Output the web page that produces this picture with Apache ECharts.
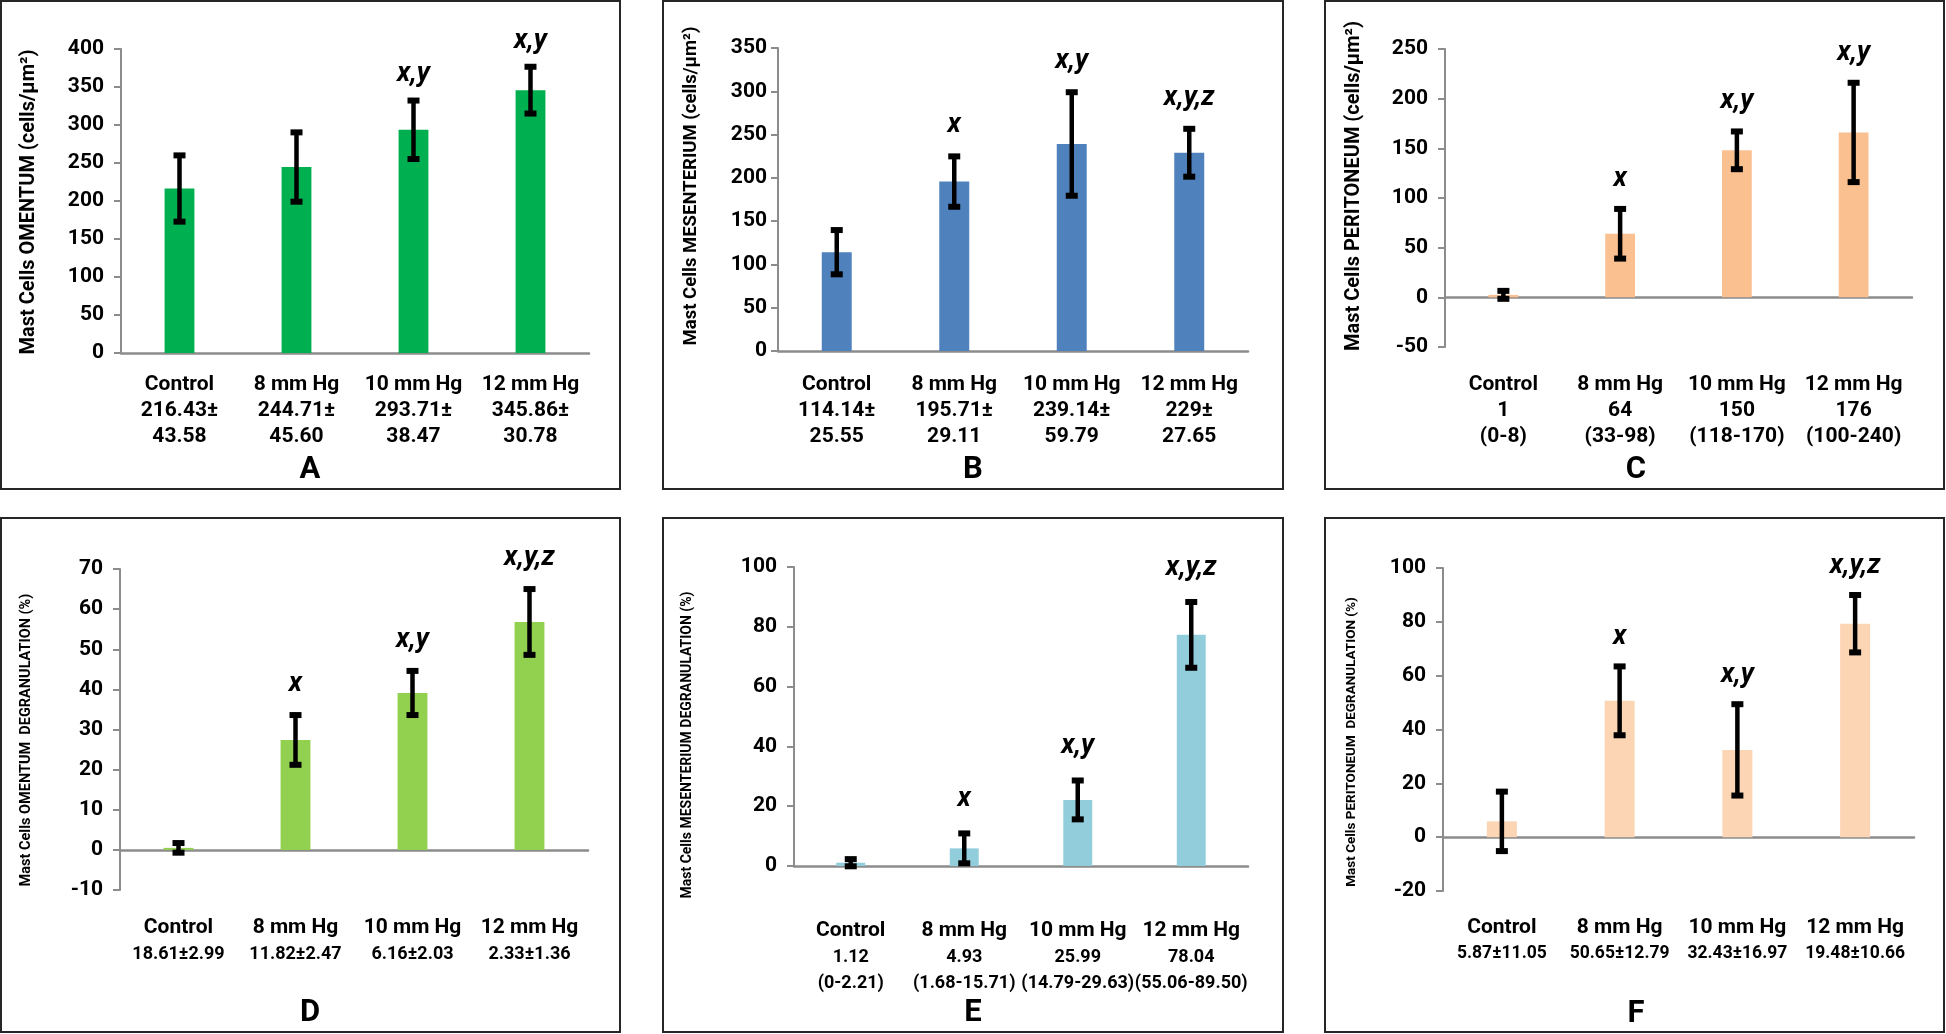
<!DOCTYPE html>
<html>
<head>
<meta charset="utf-8">
<script src="https://cdn.jsdelivr.net/npm/echarts@6/dist/echarts.min.js"></script>
<style>
  html, body { margin: 0; padding: 0; background: #ffffff; }
  #chart { width: 1946px; height: 1034px; }
</style>
</head>
<body>
<div id="chart"></div>
<script>
// ---------------- DATA ----------------
const categories = ['Control', '8 mm Hg', '10 mm Hg', '12 mm Hg'];

// A – Mast cells, omentum
const valuesA = [216.43, 244.71, 293.71, 345.86];
const errorsA = [43.58, 45.60, 38.47, 30.78];
const statsA  = ['216.43±\n43.58', '244.71±\n45.60', '293.71±\n38.47', '345.86±\n30.78'];
const signifA = ['', '', 'x,y', 'x,y'];
const ticksA  = [0, 50, 100, 150, 200, 250, 300, 350, 400];
const yNameA  = 'Mast Cells OMENTUM (cells/µm²)';

// B – Mast cells, mesenterium
const valuesB = [114.14, 195.71, 239.14, 229];
const errorsB = [25.55, 29.11, 59.79, 27.65];
const statsB  = ['114.14±\n25.55', '195.71±\n29.11', '239.14±\n59.79', '229±\n27.65'];
const signifB = ['', 'x', 'x,y', 'x,y,z'];
const ticksB  = [0, 50, 100, 150, 200, 250, 300, 350];
const yNameB  = 'Mast Cells MESENTERIUM (cells/µm²)';

// C – Mast cells, peritoneum
const valuesC = [2.5, 64, 148, 166];
const errorsC = [4, 25, 19, 50];
const statsC  = ['1\n(0-8)', '64\n(33-98)', '150\n(118-170)', '176\n(100-240)'];
const signifC = ['', 'x', 'x,y', 'x,y'];
const ticksC  = [-50, 0, 50, 100, 150, 200, 250];
const yNameC  = 'Mast Cells PERITONEUM (cells/µm²)';

// D – Degranulation, omentum
const valuesD = [0.5, 27.4, 39.1, 56.8];
const errorsD = [1.2, 6.2, 5.5, 8.2];
const statsD  = ['18.61±2.99', '11.82±2.47', '6.16±2.03', '2.33±1.36'];
const signifD = ['', 'x', 'x,y', 'x,y,z'];
const ticksD  = [-10, 0, 10, 20, 30, 40, 50, 60, 70];
const yNameD  = 'Mast Cells OMENTUM  DEGRANULATION (%)';

// E – Degranulation, mesenterium
const valuesE = [1.1, 5.9, 22.1, 77.3];
const errorsE = [1.2, 5, 6.5, 11];
const statsE  = ['1.12\n(0-2.21)', '4.93\n(1.68-15.71)', '25.99\n(14.79-29.63)', '78.04\n(55.06-89.50)'];
const signifE = ['', 'x', 'x,y', 'x,y,z'];
const ticksE  = [0, 20, 40, 60, 80, 100];
const yNameE  = 'Mast Cells MESENTERIUM DEGRANULATION (%)';

// F – Degranulation, peritoneum
const valuesF = [5.87, 50.65, 32.43, 79.3];
const errorsF = [11.05, 12.79, 16.97, 10.66];
const statsF  = ['5.87±11.05', '50.65±12.79', '32.43±16.97', '19.48±10.66'];
const signifF = ['', 'x', 'x,y', 'x,y,z'];
const ticksF  = [-20, 0, 20, 40, 60, 80, 100];
const yNameF  = 'Mast Cells PERITONEUM  DEGRANULATION (%)';

// ---------------- LAYOUT / STYLE ----------------
const FONT = 'Roboto, "Open Sans", sans-serif';
const panels = [
  { letter: 'A', values: valuesA, errors: errorsA, stats: statsA, signif: signifA, ticks: ticksA, yName: yNameA,
    color: '#00B050', frame: [1, 1, 619, 488], grid: [121, 49, 468, 304], labelY: 385, valueSize: 21,
    yNamePos: [29, 202], yNameSize: 20, letterPos: [310, 470], gap: 26, tickMargin: 17 },
  { letter: 'B', values: valuesB, errors: errorsB, stats: statsB, signif: signifB, ticks: ticksB, yName: yNameB,
    color: '#4F81BD', frame: [663, 1, 620, 488], grid: [778, 48, 470, 303], labelY: 385, valueSize: 21,
    yNamePos: [691, 186], yNameSize: 18.5, letterPos: [973, 470], gap: 31, tickMargin: 11 },
  { letter: 'C', values: valuesC, errors: errorsC, stats: statsC, signif: signifC, ticks: ticksC, yName: yNameC,
    color: '#FAC090', frame: [1325, 1, 619, 488], grid: [1445, 49, 467, 298], labelY: 385, valueSize: 21,
    yNamePos: [1354, 186], yNameSize: 20, letterPos: [1636, 470], gap: 30, tickMargin: 17 },
  { letter: 'D', values: valuesD, errors: errorsD, stats: statsD, signif: signifD, ticks: ticksD, yName: yNameD,
    color: '#92D050', frame: [1, 518, 619, 514], grid: [120, 569, 468, 321], labelY: 928, valueSize: 18,
    yNamePos: [26, 740], yNameSize: 14.5, letterPos: [310, 1013], gap: 31, tickMargin: 17 },
  { letter: 'E', values: valuesE, errors: errorsE, stats: statsE, signif: signifE, ticks: ticksE, yName: yNameE,
    color: '#92CDDC', frame: [663, 518, 620, 514], grid: [794, 567, 454, 299], labelY: 931, valueSize: 18,
    yNamePos: [687, 745], yNameSize: 14, letterPos: [973, 1013], gap: 34, tickMargin: 17 },
  { letter: 'F', values: valuesF, errors: errorsF, stats: statsF, signif: signifF, ticks: ticksF, yName: yNameF,
    color: '#FCD5B5', frame: [1325, 518, 619, 514], grid: [1443, 568, 471, 323], labelY: 928, valueSize: 17.5,
    yNamePos: [1352, 742], yNameSize: 13.5, letterPos: [1636, 1014], gap: 29, tickMargin: 17 }
];

const LINE_H = 26;
const AXIS_COLOR = '#8c8c8c';

const grids = [], xAxes = [], yAxes = [], series = [], titles = [], graphics = [];

panels.forEach((p, k) => {
  const min = p.ticks[0], max = p.ticks[p.ticks.length - 1];
  const interval = p.ticks[1] - p.ticks[0];
  const [gl, gt, gw, gh] = p.grid;
  const bottomY = gt + gh;
  const labelMargin = p.labelY - LINE_H / 2 - bottomY;

  grids.push({ left: gl, top: gt, width: gw, height: gh, containLabel: false });

  xAxes.push({
    type: 'category', gridIndex: k, data: categories,
    axisLine: { onZero: true, lineStyle: { color: AXIS_COLOR, width: 2.5 } },
    axisTick: { show: false },
    axisLabel: {
      interval: 0, margin: labelMargin, color: '#000', lineHeight: LINE_H,
      formatter: (val, i) => '{n|' + val + '}\n' + p.stats[i].split('\n').map(s => '{v|' + s + '}').join('\n'),
      rich: {
        n: { fontFamily: FONT, fontWeight: 'bold', fontSize: 21, lineHeight: LINE_H, color: '#000' },
        v: { fontFamily: FONT, fontWeight: 'bold', fontSize: p.valueSize, lineHeight: LINE_H, color: '#000' }
      }
    }
  });

  yAxes.push({
    type: 'value', gridIndex: k, min: min, max: max, interval: interval,
    axisLine: { show: true, lineStyle: { color: AXIS_COLOR, width: 2 } },
    axisTick: { show: true, length: 7, lineStyle: { color: AXIS_COLOR, width: 2 } },
    splitLine: { show: false },
    axisLabel: { margin: p.tickMargin, color: '#000', fontFamily: FONT, fontWeight: 'bold', fontSize: 21 }
  });

  series.push({
    type: 'bar', xAxisIndex: k, yAxisIndex: k, data: p.values,
    barWidth: '25.5%', itemStyle: { color: p.color }, z: 2, silent: true
  });

  const vals = p.values, errs = p.errors, sig = p.signif, gap = p.gap;
  series.push({
    type: 'custom', xAxisIndex: k, yAxisIndex: k, z: 5, silent: true,
    data: vals.map((v, i) => [i, v, errs[i]]),
    encode: { x: 0, y: 1 },
    renderItem: (params, api) => {
      const i = api.value(0), v = api.value(1), e = api.value(2);
      const top = api.coord([i, v + e]);
      const bot = api.coord([i, v - e]);
      const x = top[0];
      const capW = 12, capH = 6;
      const children = [
        { type: 'line', shape: { x1: x, y1: top[1], x2: x, y2: bot[1] }, style: { stroke: '#000', lineWidth: 4.5 } },
        { type: 'rect', shape: { x: x - capW / 2, y: top[1] - capH / 2, width: capW, height: capH }, style: { fill: '#000' } },
        { type: 'rect', shape: { x: x - capW / 2, y: bot[1] - capH / 2, width: capW, height: capH }, style: { fill: '#000' } }
      ];
      if (sig[params.dataIndex]) {
        children.push({
          type: 'text', x: x, y: top[1] - gap,
          style: { text: sig[params.dataIndex], align: 'center', verticalAlign: 'middle',
                   font: 'italic bold 27px ' + FONT, fill: '#000' }
        });
      }
      return { type: 'group', children: children };
    }
  });

  titles.push({
    text: p.letter, left: p.letterPos[0], top: p.letterPos[1] - 16, textAlign: 'center', padding: 0,
    textStyle: { fontFamily: FONT, fontWeight: 'bold', fontSize: 31, color: '#000', lineHeight: 32 }
  });

  graphics.push({
    type: 'rect', shape: { x: p.frame[0], y: p.frame[1], width: p.frame[2], height: p.frame[3] },
    style: { fill: 'none', stroke: '#262626', lineWidth: 2 }, z: 0, silent: true
  });
  graphics.push({
    type: 'text', x: p.yNamePos[0], y: p.yNamePos[1], rotation: Math.PI / 2,
    style: { text: p.yName, align: 'center', verticalAlign: 'middle',
             font: 'bold ' + p.yNameSize + 'px ' + FONT, fill: '#000' }, silent: true
  });
});

const chart = echarts.init(document.getElementById('chart'), null, { renderer: 'canvas' });
chart.setOption({
  backgroundColor: '#ffffff',
  animation: false,
  title: titles,
  grid: grids,
  xAxis: xAxes,
  yAxis: yAxes,
  series: series,
  graphic: graphics
});
</script>
</body>
</html>
